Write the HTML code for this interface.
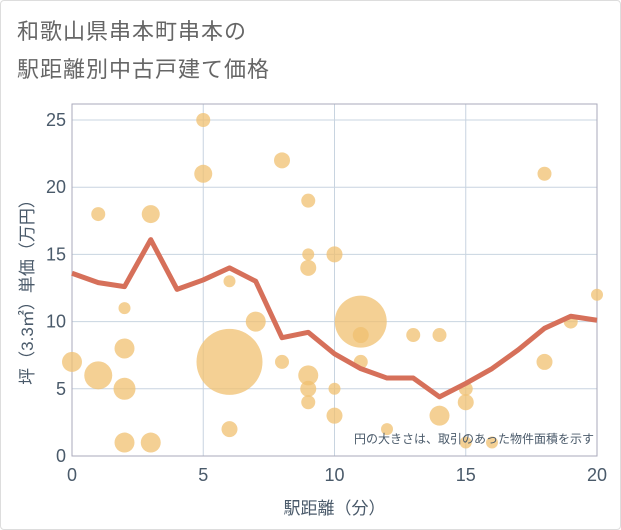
<!DOCTYPE html>
<html><head><meta charset="utf-8"><style>
html,body{margin:0;padding:0;background:#fff;}
body{width:621px;height:530px;overflow:hidden;font-family:"Liberation Sans","Noto Sans CJK JP",sans-serif;}
#frame{position:absolute;left:0;top:0;width:619px;height:528px;border:1px solid #ddd;border-radius:4px;}
#title{position:absolute;left:17px;top:13px;font-size:22px;line-height:38px;color:#666;letter-spacing:1px;}
</style></head><body>
<div id="frame"></div>
<div id="title">和歌山県串本町串本の<br>駅距離別中古戸建て価格</div>
<svg id="chart" width="621" height="530" style="position:absolute;left:0;top:0"></svg>
<script>
const xTicks=[0,5,10,15,20];
const yTicks=[0,5,10,15,20,25];
const bubbleX=[0,1,1,2,2,2,2,3,3,5,5,6,6,6,7,8,8,9,9,9,9,9,9,10,10,10,11,11,11,12,13,14,14,15,15,15,16,18,18,19,20];
const bubbleY=[7,18,6,11,8,5,1,18,1,25,21,13,7,2,10,22,7,19,15,14,6,5,4,15,5,3,10,9,7,2,9,9,3,5,4,1,1,21,7,10,12];
const bubbleR=[10,7,14,6,10,11,10,9,10,7,9,6,33,8,10,8,7,7,6,8,10,8,7,8,6,8,26,8,7,6,7,7,10,7,8,6,6,7,8,7,6];
const lineX=[0,1,2,3,4,5,6,7,8,9,10,11,12,13,14,15,16,17,18,19,20];
const lineY=[13.6,12.9,12.6,16.1,12.4,13.1,14,13,8.8,9.2,7.6,6.5,5.8,5.8,4.4,5.4,6.5,7.9,9.5,10.4,10.1];
const L=72,R=597,T=104,B=456;
const sx=v=>L+(v-0)/20*(R-L);
const sy=v=>456-v/25*336;
const svg=document.getElementById('chart');
const NS='http://www.w3.org/2000/svg';
function mk(t,a){const e=document.createElementNS(NS,t);for(const k in a)e.setAttribute(k,a[k]);svg.appendChild(e);return e;}
xTicks.forEach(v=>{const g=mk('line',{x1:sx(v),x2:sx(v),y1:T,y2:B,stroke:'#c8d4e0','stroke-width':1});


const t=mk('text',{x:sx(v),y:481,'text-anchor':'middle','font-size':18,fill:'#4a5a6a'});t.textContent=v;

});
yTicks.forEach(v=>{const g=mk('line',{x1:L,x2:R,y1:sy(v),y2:sy(v),stroke:'#c8d4e0','stroke-width':1});


const t=mk('text',{x:66,y:sy(v)+6,'text-anchor':'end','font-size':18,fill:'#4a5a6a'});t.textContent=v;

});
const box=mk('rect',{x:L,y:T,width:R-L,height:B-T,fill:'none',stroke:'#aab','stroke-width':1});


bubbleX.forEach((x,i)=>{const c=mk('circle',{cx:sx(x),cy:sy(bubbleY[i]),r:bubbleR[i],fill:'#f0c070','fill-opacity':0.75});

});
const p=mk('polyline',{points:lineX.map((x,i)=>sx(x)+','+sy(lineY[i])).join(' '),fill:'none',stroke:'#d6705a','stroke-width':5,'stroke-linejoin':'round'});


const n=mk('text',{x:594,y:443,'text-anchor':'end','font-size':12,fill:'#4a5a6a'});n.textContent='円の大きさは、取引のあった物件面積を示す';


const xt=mk('text',{x:sx(10),y:514,'text-anchor':'middle','font-size':17,fill:'#4a5a6a'});xt.textContent='駅距離（分）';


const yt=mk('text',{x:0,y:0,'text-anchor':'middle','font-size':17,fill:'#4a5a6a',transform:'translate(33,288) rotate(-90)'});yt.textContent='坪（3.3㎡）単価（万円）';


</script>
</body></html>
